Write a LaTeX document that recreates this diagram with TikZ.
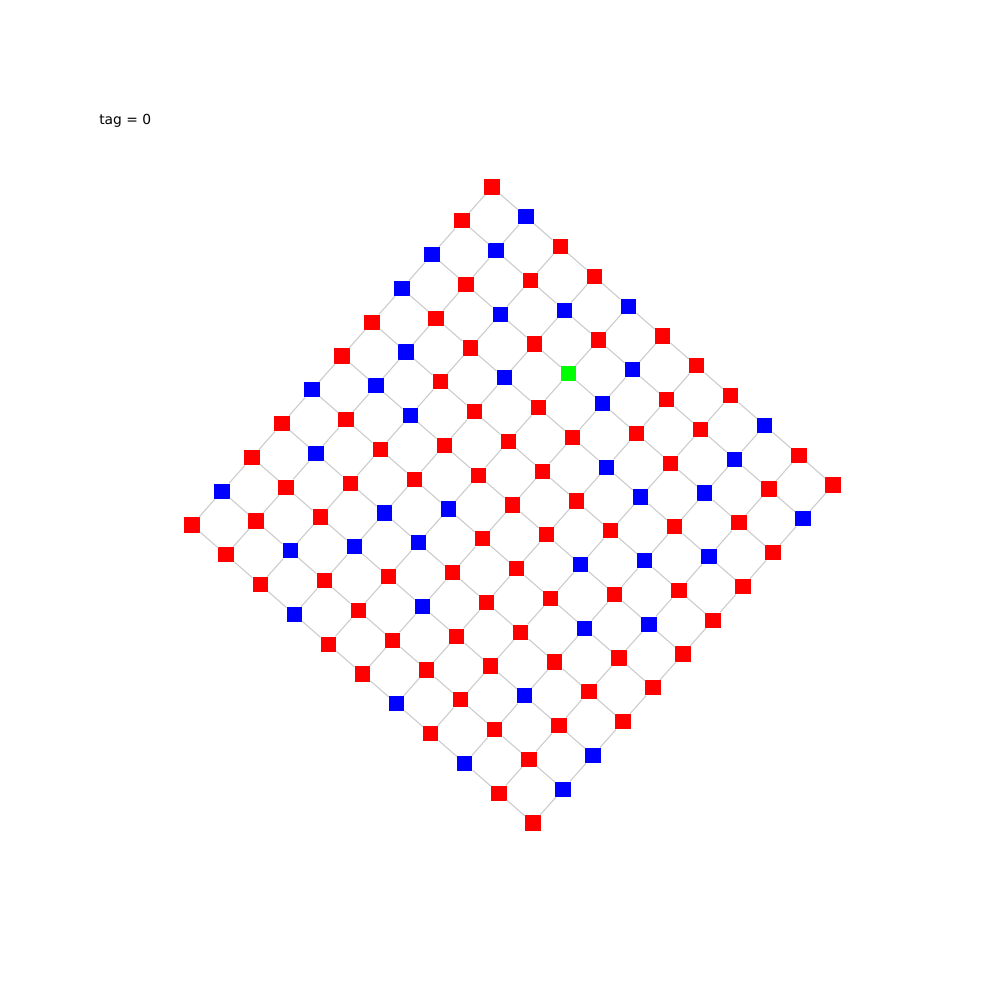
\documentclass[tikz,border=0pt]{standalone}
\usepackage{fontspec}
\setmainfont{DejaVu Sans}
\usetikzlibrary{positioning}
\definecolor{r}{RGB}{255,0,0}
\definecolor{b}{RGB}{0,0,255}
\definecolor{g}{RGB}{0,255,0}
\definecolor{wire}{RGB}{204,204,204}
\tikzset{
  cell/.style={rectangle,fill=#1,inner sep=0pt,minimum size=3.9mm},
  cell/.default=r,
  link/.style={draw=wire,line width=0.8pt},
  tag/.style={anchor=west,inner sep=0pt,font=\fontsize{10}{12}\selectfont}
}
\begin{document}
\begin{tikzpicture}[x=0.254mm,y=-0.254mm]
  \useasboundingbox (0,0) rectangle (1000,1000);
  \node[tag] (title) at (99,121) {tag = 0};
  % 11 x 11 lattice, one row per \i
  \foreach \row [count=\i from 0] in {
      {r,r,b,b,r,r,b,r,r,b,r},
      {b,b,r,r,b,b,r,b,r,r,r},
      {r,r,b,r,r,b,r,r,r,b,r},
      {r,b,r,b,r,r,r,b,b,r,b},
      {b,r,g,r,r,r,b,b,r,r,r},
      {r,b,b,r,r,r,r,r,b,r,r},
      {r,r,r,b,r,r,r,r,r,r,b},
      {r,r,r,b,r,b,r,r,r,r,r},
      {b,b,b,r,b,r,b,r,b,r,b},
      {r,r,r,b,r,b,r,r,r,r,r},
      {r,b,r,r,r,r,r,r,b,b,r}}{
    \foreach \c [count=\j from 0] in \row
      \node[cell=\c] (n-\i-\j) at ({492+34.1*\i-30*\j},{187+29.8*\i+33.8*\j}) {};
  }
  \foreach \i in {0,...,10}
    \foreach \j [count=\k from 1] in {0,...,9}
      \draw[link] (n-\i-\j) -- (n-\i-\k) (n-\j-\i) -- (n-\k-\i);
\end{tikzpicture}
\end{document}
